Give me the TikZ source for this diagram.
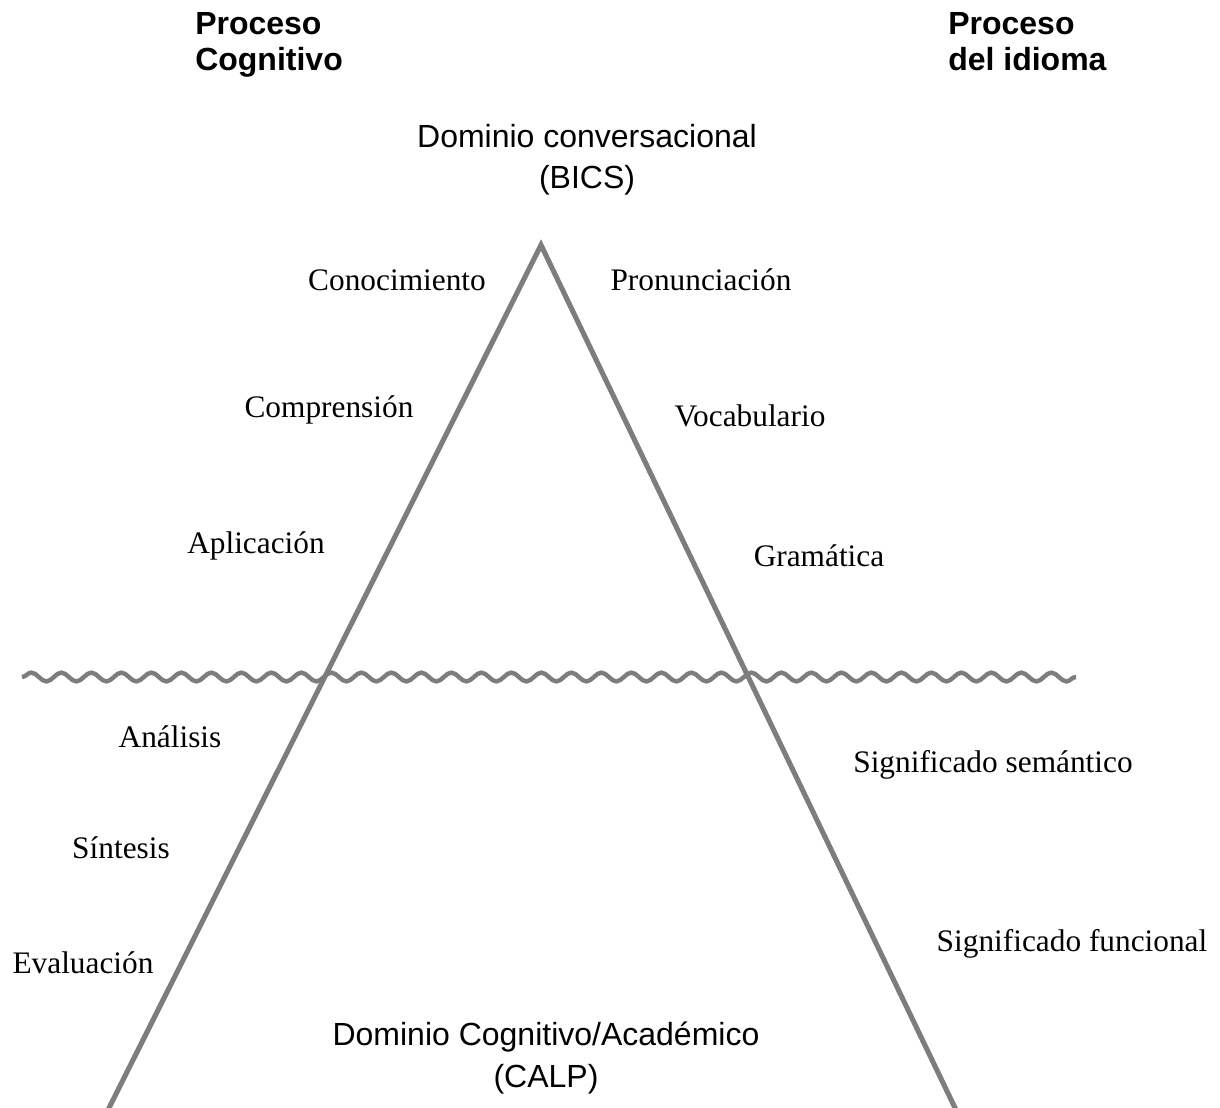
\documentclass[tikz,border=0pt]{standalone}
\usepackage{fontspec}
\setmainfont{Liberation Serif}
\setsansfont{Liberation Sans}
\usetikzlibrary{decorations.pathmorphing}

\begin{document}
\begin{tikzpicture}[x=0.75pt,y=-0.75pt,
  every node/.style={inner sep=0pt},
  lvl/.style={font=\fontsize{23.5}{28}\selectfont},
  dom/.style={font=\sffamily\fontsize{24}{31}\selectfont,align=center},
  head/.style={font=\sffamily\bfseries\fontsize{24}{27.5}\selectfont,align=left,anchor=north west},
  leg/.style={draw=gray!98!black,line width=3.8pt},
  wave/.style={draw=gray!98!black,line width=3.3pt,decorate,
    decoration={snake,segment length=22.5pt,amplitude=3.3pt}}]
\useasboundingbox (0,0) rectangle (1220,1107);
% heads
\node [head] (hcog) at (195,12) {Proceso\\Cognitivo};
\node [head] (hidi) at (948,12) {Proceso\\del idioma};
\node [dom] (bics) at (587,160) {Dominio conversacional\\(BICS)};
\node [dom] (calp) at (546,1058) {Dominio Cognitivo/Académico\\(CALP)};
% triangle
\coordinate (apex) at (541,245);
\coordinate (lfoot) at (107,1112);
\coordinate (rfoot) at (957,1112);
\draw [leg] (lfoot) -- (apex) -- (rfoot);
% wavy limit
\coordinate (wl) at (22,677);
\coordinate (wr) at (1076,677);
\draw [wave] (wl) -- (wr);
% left labels
\node [lvl] (con) at (397,280) {Conocimiento};
\node [lvl] (com) at (329,410) {Comprensión};
\node [lvl] (apl) at (256,546) {Aplicación};
\node [lvl] (ana) at (170,737) {Análisis};
\node [lvl] (sin) at (121,848) {Síntesis};
\node [lvl] (eva) at (83,963) {Evaluación};
% right labels
\node [lvl] (pro) at (701,280) {Pronunciación};
\node [lvl] (voc) at (750,416) {Vocabulario};
\node [lvl] (gra) at (819,556) {Gramática};
\node [lvl] (sem) at (993,765) {Significado semántico};
\node [lvl] (fun) at (1072,944) {Significado funcional};
\end{tikzpicture}
\end{document}
